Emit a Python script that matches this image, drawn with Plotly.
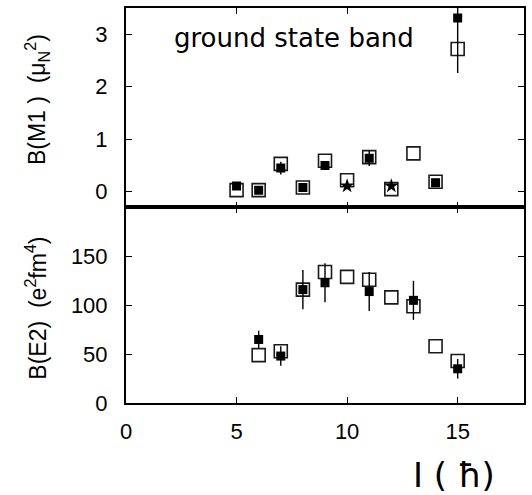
import plotly.graph_objects as go
from plotly.subplots import make_subplots

# Top panel: B(M1)
m1_exp_spin = [5, 6, 7, 8, 9, 11, 14, 15]
m1_exp_val = [0.11, 0.03, 0.45, 0.08, 0.50, 0.64, 0.17, 3.31]
m1_exp_err = [0.04, 0.02, 0.12, 0.03, 0.05, 0.15, 0.08, 1.05]
m1_th_spin = [5, 6, 7, 8, 9, 10, 11, 12, 13, 14, 15]
m1_th_val = [0.03, 0.03, 0.53, 0.08, 0.59, 0.22, 0.66, 0.05, 0.73, 0.19, 2.72]
m1_star_spin = [10, 12]
m1_star_val = [0.11, 0.11]

# Bottom panel: B(E2)
e2_exp_spin = [6, 7, 8, 9, 11, 13, 15]
e2_exp_val = [65, 48, 116, 123, 114, 105, 35]
e2_exp_err = [9, 10, 20, 20, 20, 20, 10]
e2_th_spin = [6, 7, 8, 9, 10, 11, 12, 13, 14, 15]
e2_th_val = [49, 53, 116, 134, 129, 126, 108, 99, 58, 43]

x_ticks = [0, 5, 10, 15]
m1_ticks = [0, 1, 2, 3]
e2_ticks = [0, 50, 100, 150]

fig = make_subplots(rows=2, cols=1, shared_xaxes=True, vertical_spacing=0,
                    row_heights=[0.505, 0.495])

open_marker = dict(symbol="square-open", size=13, color="#1a1a1a", line=dict(width=1.6, color="#1a1a1a"))
fill_marker = dict(symbol="square", size=9, color="black")
err_style = dict(type="data", thickness=1.4, width=0, color="black")

fig.add_trace(go.Scatter(x=m1_th_spin, y=m1_th_val, mode="markers", marker=open_marker,
                         showlegend=False), row=1, col=1)
fig.add_trace(go.Scatter(x=m1_exp_spin, y=m1_exp_val, mode="markers", marker=fill_marker,
                         error_y=dict(array=m1_exp_err, **err_style), showlegend=False), row=1, col=1)
fig.add_trace(go.Scatter(x=m1_star_spin, y=m1_star_val, mode="markers",
                         marker=dict(symbol="star", size=11, color="black"), showlegend=False), row=1, col=1)

fig.add_trace(go.Scatter(x=e2_th_spin, y=e2_th_val, mode="markers", marker=open_marker,
                         showlegend=False), row=2, col=1)
fig.add_trace(go.Scatter(x=e2_exp_spin, y=e2_exp_val, mode="markers", marker=fill_marker,
                         error_y=dict(array=e2_exp_err, **err_style), showlegend=False), row=2, col=1)

tick_font = dict(family="Liberation Sans, Arial, sans-serif", size=22, color="black")
axis_common = dict(showline=True, linecolor="black", mirror="allticks",
                   ticks="inside", ticklen=6, tickwidth=1, tickcolor="black",
                   showgrid=False, zeroline=False, tickfont=tick_font)

fig.update_xaxes(range=[0, 18], tickvals=x_ticks, linewidth=1.5, **axis_common)
fig.update_xaxes(showticklabels=False, row=1, col=1)
fig.update_xaxes(showticklabels=True, ticklabelstandoff=8, row=2, col=1)
fig.update_yaxes(range=[-0.3, 3.5], tickvals=m1_ticks, ticklabelstandoff=12, linewidth=2,
                 row=1, col=1, **axis_common)
fig.update_yaxes(range=[0, 200], tickvals=e2_ticks, ticklabelstandoff=12, linewidth=2,
                 row=2, col=1, **axis_common)

title_font = dict(family="Liberation Sans, Arial, sans-serif", size=23, color="black")
fig.add_annotation(text="B(M1 )  (μ<sub>N</sub><sup>2</sup>)", textangle=-90, xref="paper", yref="paper",
                   x=-0.225, y=0.768, xanchor="center", yanchor="middle", showarrow=False, font=title_font)
fig.add_annotation(text="B(E2)  (e<sup>2</sup>fm<sup>4</sup>)", textangle=-90, xref="paper", yref="paper",
                   x=-0.225, y=0.24, xanchor="center", yanchor="middle", showarrow=False, font=title_font)
fig.add_annotation(text="ground state band", xref="paper", yref="paper", x=0.4225, y=0.924,
                   xanchor="center", yanchor="middle", showarrow=False,
                   font=dict(family="DejaVu Sans, sans-serif", size=26, color="black"))
fig.add_annotation(text="I ( ħ)", xref="paper", yref="paper", x=0.825, y=-0.182,
                   xanchor="center", yanchor="middle", showarrow=False,
                   font=dict(family="DejaVu Sans, sans-serif", size=34, color="black"))

fig.update_layout(width=532, height=495, margin=dict(l=126, r=6, t=7, b=92),
                  plot_bgcolor="white", paper_bgcolor="white")

fig.write_html("out.html", config={"displayModeBar": False},
               post_script="document.body.style.margin='0px';")
